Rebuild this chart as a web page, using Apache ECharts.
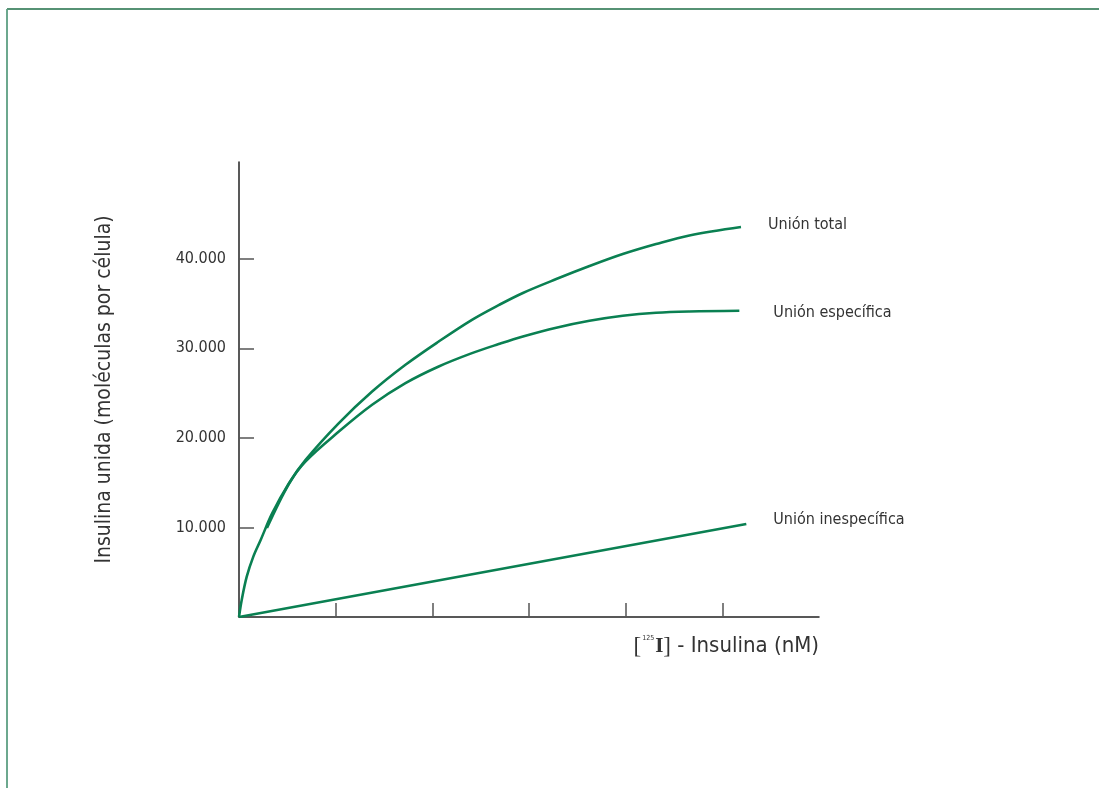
<!DOCTYPE html>
<html>
<head>
<meta charset="utf-8">
<script src="https://cdn.jsdelivr.net/npm/echarts@6/dist/echarts.min.js"></script>
<style>
html,body{margin:0;padding:0;background:#fff;}
#c{width:1099px;height:788px;}
</style>
</head>
<body>
<div id="c"></div>
<script>
// Data (x in nM tick units, y in molecules per cell)
var totalX = [0, 0.028, 0.080, 0.148, 0.224, 0.344, 0.517, 0.689, 1.033, 1.377, 1.722, 2.066, 2.410, 2.686, 2.937, 3.282, 3.626, 3.970, 4.315, 4.659, 5.193];
var totalY = [0, 1900, 4500, 6740, 8600, 11590, 14940, 17540, 21640, 25170, 28160, 30760, 33180, 34820, 36180, 37730, 39180, 40520, 41640, 42600, 43540];
var specX = [0.289, 0.517, 0.689, 1.033, 1.377, 1.722, 2.066, 2.410, 2.686, 2.937, 3.282, 3.626, 3.970, 4.315, 4.659, 5.176];
var specY = [9940, 14880, 17380, 20700, 23690, 26110, 27970, 29460, 30470, 31320, 32300, 33070, 33630, 33970, 34110, 34190];
var inespX = [0, 5.248];
var inespY = [0, 10390];
var yTicks = [10000, 20000, 30000, 40000];
var yTickLabels = ['10.000', '20.000', '30.000', '40.000'];
var seriesNames = ['Unión total', 'Unión específica', 'Unión inespecífica'];

function pairs(xs, ys) { return xs.map(function (x, i) { return [x, ys[i]]; }); }

var FONT = "'Liberation Sans Narrow', 'DejaVu Sans Condensed', 'Liberation Sans', sans-serif";
var GREEN = '#0a8052';
var TXT = '#333333';

var chart = echarts.init(document.getElementById('c'), null, { renderer: 'canvas' });

function lineSeries(name, data, offset) {
  return {
    name: name,
    type: 'line',
    data: data,
    smooth: 0.35,
    showSymbol: false,
    symbol: 'none',
    lineStyle: { color: GREEN, width: 2.6 },
    animation: false,
    endLabel: {
      show: true,
      formatter: name,
      distance: 0,
      offset: offset,
      color: TXT,
      fontFamily: FONT,
      fontSize: 16
    }
  };
}

chart.setOption({
  animation: false,
  backgroundColor: '#ffffff',
  grid: { left: 239, right: 280, top: 162, bottom: 171, containLabel: false },
  xAxis: {
    type: 'value',
    min: 0,
    max: 6,
    interval: 1,
    splitLine: { show: false },
    axisLine: { show: true, onZero: false, lineStyle: { color: '#222', width: 1.5 } },
    axisTick: { show: true, inside: true, length: 14, lineStyle: { color: '#555', width: 1.5 }, customValues: [1, 2, 3, 4, 5] },
    axisLabel: { show: false },
    name: '{br|[}{sup|125}{i|I}{br|]}{t| - Insulina (nM)}',
    nameLocation: 'end',
    nameGap: 0,
    nameTextStyle: {
      align: 'right',
      verticalAlign: 'top',
      padding: [18, 0, 0, 0],
      rich: {
        br: { fontFamily: "'Liberation Serif', 'DejaVu Serif', serif", fontSize: 23, color: TXT },
        sup: { fontFamily: FONT, fontSize: 7, color: TXT, verticalAlign: 'top', padding: [0, 1, 12, 1] },
        i: { fontFamily: "'Liberation Serif', 'DejaVu Serif', serif", fontSize: 21, fontWeight: 'bold', color: TXT },
        t: { fontFamily: FONT, fontSize: 22, color: TXT }
      }
    }
  },
  yAxis: {
    type: 'value',
    min: 0,
    max: 50800,
    interval: 10000,
    splitLine: { show: false },
    axisLine: { show: true, lineStyle: { color: '#222', width: 1.5 } },
    axisTick: { show: true, inside: true, length: 15, lineStyle: { color: '#555', width: 1.5 }, customValues: yTicks },
    axisLabel: {
      show: true,
      customValues: yTicks,
      margin: 13,
      padding: [7, 0, 0, 0],
      color: TXT,
      fontFamily: FONT,
      fontSize: 16,
      formatter: function (v) { var i = yTicks.indexOf(v); return i >= 0 ? yTickLabels[i] : ''; }
    },
    name: 'Insulina unida (moléculas por célula)',
    nameLocation: 'middle',
    nameGap: 124,
    nameRotate: 90,
    nameTextStyle: { color: TXT, fontFamily: FONT, fontSize: 21 }
  },
  graphic: [
    { type: 'line', shape: { x1: 7, y1: 9, x2: 1099, y2: 9 }, style: { stroke: '#1e6e46', lineWidth: 1.5 }, silent: true },
    { type: 'line', shape: { x1: 7, y1: 9, x2: 7, y2: 788 }, style: { stroke: '#5c9f82', lineWidth: 1.8 }, silent: true }
  ],
  series: [
    lineSeries(seriesNames[0], pairs(totalX, totalY), [27, -2]),
    lineSeries(seriesNames[1], pairs(specX, specY), [34, 2]),
    lineSeries(seriesNames[2], pairs(inespX, inespY), [27, -4])
  ]
});
</script>
</body>
</html>
